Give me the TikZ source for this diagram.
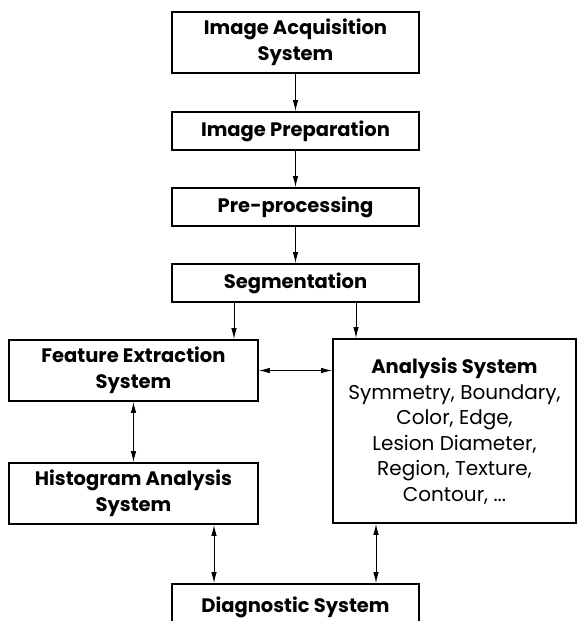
\documentclass[tikz,border=0pt]{standalone}
\usepackage{fontspec}
\setmainfont{Poppins}
\usetikzlibrary{arrows.meta}
\begin{document}
\begin{tikzpicture}[x=1pt,y=-1pt,
  box/.style={draw, line width=1.8pt, inner sep=0pt, align=center,
    font=\bfseries\fontsize{19.5}{25.5}\selectfont},
  infobox/.style={draw, line width=1.8pt, inner sep=0pt, align=center,
    font=\fontsize{20}{25.5}\selectfont},
  tip/.tip={Latex[length=11pt,width=5.5pt]},
  link/.style={line width=0.9pt, -tip},
  both/.style={line width=0.9pt, tip-tip}]
\useasboundingbox (0,0) rectangle (577,621);
\clip (0,0) rectangle (577,621);

% pipeline column
\node[box, minimum width=247pt, minimum height=61pt] (acq)  at (295.5,42.5) {Image Acquisition\\System};
\node[box, minimum width=247pt, minimum height=38pt] (prep) at (295.5,131)  {Image Preparation};
\node[box, minimum width=247pt, minimum height=38pt] (pre)  at (295.5,207)  {Pre-processing};
\node[box, minimum width=247pt, minimum height=38pt] (seg)  at (295.5,283)  {Segmentation};

% branches
\node[box, minimum width=249pt, minimum height=61pt] (feat) at (133.5,370.5) {Feature Extraction\\System};
\node[box, minimum width=249pt, minimum height=61pt] (hist) at (133.5,493.5) {Histogram Analysis\\System};
\node[infobox, minimum width=243pt, minimum height=184pt] (ana) at (454.5,431)
  {\textbf{\fontsize{19.5}{25.5}\selectfont Analysis System}\\Symmetry, Boundary,\\Color, Edge,\\Lesion Diameter,\\Region, Texture,\\Contour, ...};

% final stage (runs past the lower edge)
\node[box, minimum width=247pt, minimum height=46pt] (diag) at (295.5,607) {Diagnostic System};

% connector columns
\coordinate (xL) at (234,0);
\coordinate (xR) at (356,0);
\coordinate (xH) at (214,0);
\coordinate (xA) at (376,0);

\draw[link] (acq.south) -- (prep.north);
\draw[link] (prep.south) -- (pre.north);
\draw[link] (pre.south) -- (seg.north);
\draw[link] (seg.south -| xL) -- (feat.north -| xL);
\draw[link] (seg.south -| xR) -- (ana.north -| xR);
\draw[both] (feat.east) -- (ana.west |- feat.east);
\draw[both] (feat.south) -- (hist.north);
\draw[both] (hist.south -| xH) -- (diag.north -| xH);
\draw[both] (ana.south -| xA) -- (diag.north -| xA);
\end{tikzpicture}
\end{document}
